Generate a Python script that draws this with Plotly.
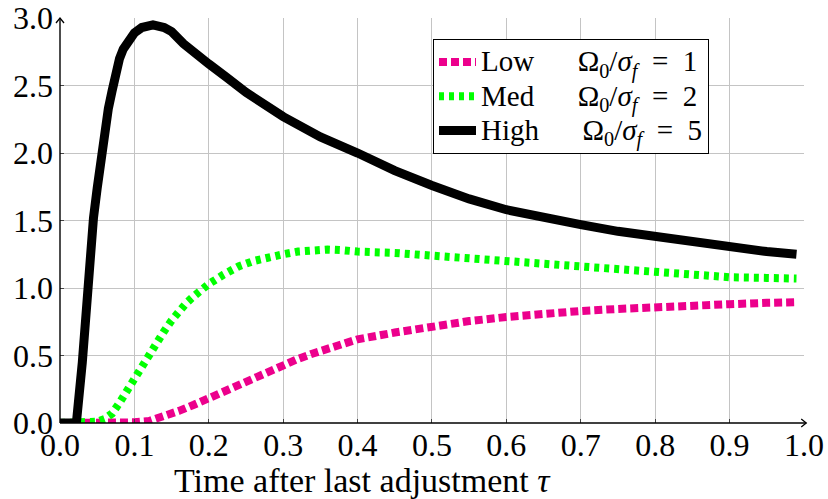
import plotly.graph_objects as go

# ---------------- data ----------------
low_x = [0.0, 0.03, 0.08, 0.10, 0.12, 0.14, 0.16, 0.18, 0.20, 0.22, 0.24, 0.26, 0.28, 0.30,
         0.32, 0.34, 0.36, 0.38, 0.40, 0.45, 0.50, 0.55, 0.60, 0.65, 0.70, 0.75, 0.80,
         0.85, 0.90, 0.95, 0.99]
low_y = [0.0, 0.0, 0.0, 0.005, 0.015, 0.045, 0.09, 0.135, 0.185, 0.235, 0.29, 0.34, 0.385, 0.43,
         0.475, 0.515, 0.55, 0.59, 0.62, 0.67, 0.72, 0.755, 0.785, 0.81, 0.83, 0.845, 0.86,
         0.87, 0.88, 0.89, 0.895]

med_x = [0.0, 0.04, 0.05, 0.06, 0.07, 0.08, 0.09, 0.10, 0.11, 0.12, 0.13, 0.14, 0.15, 0.16,
         0.17, 0.18, 0.19, 0.20, 0.22, 0.24, 0.26, 0.28, 0.30, 0.32, 0.34, 0.36, 0.38, 0.40,
         0.45, 0.50, 0.55, 0.60, 0.65, 0.70, 0.75, 0.80, 0.85, 0.90, 0.95, 0.99]
med_y = [0.0, 0.0, 0.01, 0.03, 0.07, 0.15, 0.24, 0.34, 0.43, 0.51, 0.60, 0.68, 0.76, 0.83,
         0.89, 0.94, 0.99, 1.03, 1.10, 1.16, 1.20, 1.23, 1.25, 1.27, 1.28, 1.285, 1.28, 1.27,
         1.26, 1.24, 1.22, 1.19, 1.17, 1.15, 1.13, 1.11, 1.10, 1.08, 1.075, 1.07]

high_x = [0.0, 0.022, 0.03, 0.035, 0.04, 0.045, 0.05, 0.055, 0.06, 0.065, 0.07, 0.075, 0.08,
          0.085, 0.09, 0.095, 0.10, 0.11, 0.125, 0.14, 0.15, 0.166, 0.18, 0.20, 0.224, 0.25,
          0.30, 0.35, 0.40, 0.45, 0.50, 0.55, 0.60, 0.65, 0.70, 0.75, 0.80, 0.85, 0.90,
          0.95, 0.99]
high_y = [0.0, 0.0, 0.45, 0.85, 1.22, 1.52, 1.74, 1.98, 2.15, 2.33, 2.46, 2.60, 2.70,
          2.77, 2.82, 2.86, 2.89, 2.93, 2.95, 2.93, 2.90, 2.81, 2.74, 2.66, 2.56, 2.45,
          2.27, 2.12, 2.00, 1.87, 1.76, 1.66, 1.58, 1.52, 1.47, 1.42, 1.38, 1.34, 1.30,
          1.27, 1.25]

NB = "\u00a0"
EQ = "\u2002=\u2002"
RATIO = "Ω<sub>0</sub>/<i>σ<sub>f</sub></i>"
series_labels = ["Low", "Med", "High"]
series_values = ["1", "2", "5"]
series_names = [
    '<span style="font-size:29px">' + lab + NB * 6 + RATIO + EQ + val + "</span>"
    for lab, val in zip(series_labels, series_values)
]

x_tick_vals = [0.0, 0.1, 0.2, 0.3, 0.4, 0.5, 0.6, 0.7, 0.8, 0.9, 1.0]
x_tick_text = ["0.0", "0.1", "0.2", "0.3", "0.4", "0.5", "0.6", "0.7", "0.8", "0.9", "1.0"]
y_tick_vals = [0.0, 0.5, 1.0, 1.5, 2.0, 2.5, 3.0]
y_tick_text = ["0.0", "0.5", "1.0", "1.5", "2.0", "2.5", "3.0"]

x_title = "Time after last adjustment <i>τ</i>"

# ---------------- figure ----------------
fig = go.Figure()
fig.add_trace(go.Scatter(x=low_x, y=low_y, mode="lines", name=series_names[0],
                         line=dict(color="#EC008C", width=8, dash="8px,4px")))
fig.add_trace(go.Scatter(x=med_x, y=med_y, mode="lines", name=series_names[1],
                         line=dict(color="#00FF00", width=8, dash="5px,5px")))
fig.add_trace(go.Scatter(x=high_x, y=high_y, mode="lines", name=series_names[2],
                         line=dict(color="#000000", width=9)))

L, R, T, B = 60, 24, 18, 76
W, H = 828, 499
pw, ph = W - L - R, H - T - B

fig.update_layout(
    width=W, height=H,
    margin=dict(l=L, r=R, t=T, b=B, pad=0, autoexpand=False),
    plot_bgcolor="white", paper_bgcolor="white",
    font=dict(family="Liberation Serif", size=32, color="black"),
    showlegend=True,
    legend=dict(x=(433 - L) / pw, y=(H - B - 39) / ph, xanchor="left", yanchor="top",
                bgcolor="white", bordercolor="black", borderwidth=1,
                font=dict(size=24), tracegroupgap=0, itemwidth=37),
    xaxis=dict(range=[0, 1.0001], tickvals=x_tick_vals, ticktext=x_tick_text,
               showgrid=True, gridcolor="#c4c4c4", gridwidth=1, zeroline=False,
               showline=False, ticks="inside", ticklen=4, tickcolor="#444",
               ticklabelstandoff=0, tickfont=dict(size=32), automargin=False),
    yaxis=dict(range=[0, 3.0005], tickvals=y_tick_vals, ticktext=y_tick_text,
               showgrid=True, gridcolor="#c4c4c4", gridwidth=1, zeroline=False,
               showline=False, ticks="inside", ticklen=4, tickcolor="#444",
               ticklabelstandoff=6, tickfont=dict(size=32), automargin=False),
)

# axis lines with arrow tips
ax_col = "black"
fig.add_shape(type="line", xref="paper", yref="paper", x0=0, y0=0, x1=1.003, y1=0,
              line=dict(color=ax_col, width=1.4), layer="above")
fig.add_shape(type="line", xref="paper", yref="paper", x0=0, y0=0, x1=0, y1=1.0,
              line=dict(color=ax_col, width=1.4), layer="above")
fig.add_shape(type="path", xref="paper", yref="paper", xsizemode="pixel", ysizemode="pixel",
              xanchor=1.003, yanchor=0, path="M-5,4 L0,0 L-5,-4",
              line=dict(color=ax_col, width=1.3), layer="above")
fig.add_shape(type="path", xref="paper", yref="paper", xsizemode="pixel", ysizemode="pixel",
              xanchor=0, yanchor=1.0, path="M-4,-5 L0,0 L4,-5",
              line=dict(color=ax_col, width=1.3), layer="above")

fig.add_annotation(text=x_title, xref="paper", yref="paper",
                   x=(362 - L) / pw, y=-(480 - (H - B)) / ph,
                   xanchor="center", yanchor="middle", showarrow=False,
                   font=dict(size=34))

fig.write_html("out.html",
               config={"displayModeBar": False},
               post_script="document.body.style.margin='0';document.body.style.padding='0';"
                           "document.documentElement.style.overflow='hidden';")
